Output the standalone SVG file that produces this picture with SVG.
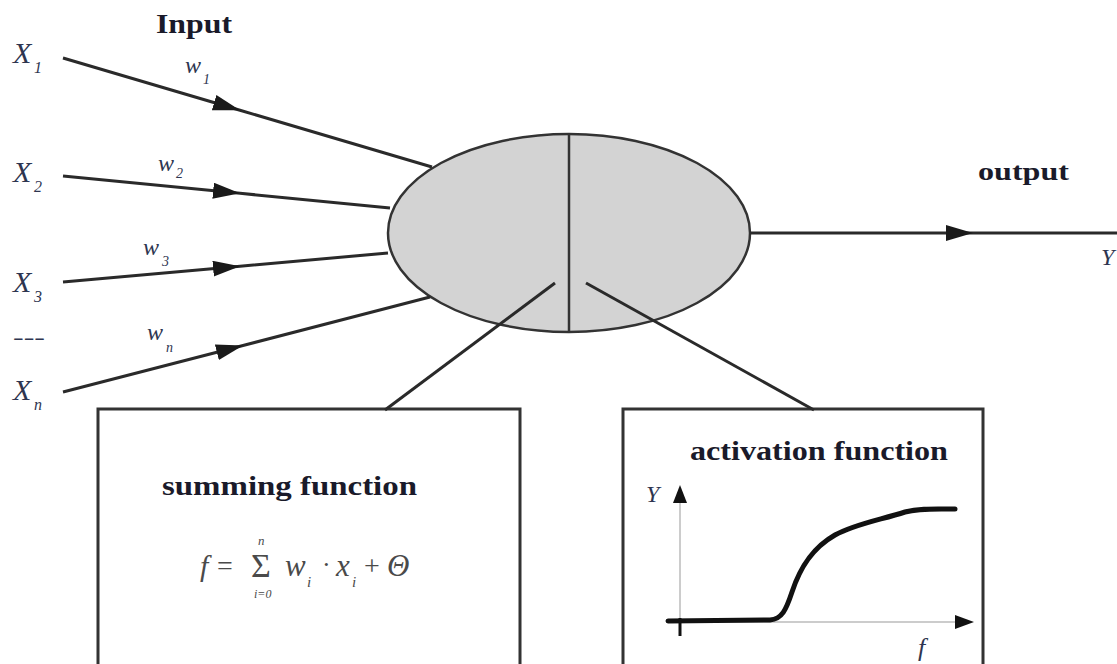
<svg xmlns="http://www.w3.org/2000/svg" width="1117" height="664" viewBox="0 0 1117 664">
<style>
.lbl{font-family:'Liberation Serif','Times New Roman',serif;font-weight:bold;fill:#1a1a2a}
.var{font-family:'Liberation Serif','Times New Roman',serif;font-style:italic;fill:#2e3550}
.math{font-family:'Liberation Serif','Times New Roman',serif;fill:#4a4a4a}
.it{font-style:italic}
.conn{stroke:#2a2a2a;stroke-width:3;fill:none}
.box{fill:#fff;stroke:#333;stroke-width:3}
</style>
<defs>
<marker id="arr" markerUnits="userSpaceOnUse" markerWidth="28" markerHeight="16" refX="27" refY="8" orient="auto">
<path d="M0,0 L27,8 L0,16 z" fill="#1a1a1a"/>
</marker>
</defs>
<rect width="1117" height="664" fill="#fff"/>

<g id="neuron">
<ellipse cx="569" cy="233" rx="181" ry="99" fill="#d3d3d3" stroke="#333" stroke-width="2.5"/>
<line x1="569" y1="134" x2="569" y2="332" stroke="#333" stroke-width="2.5"/>
</g>

<g id="summing-box">
<rect class="box" x="98" y="409" width="422" height="270"/>
<text class="lbl" x="162" y="495" font-size="27" textLength="255" lengthAdjust="spacingAndGlyphs">summing function</text>
<g class="math">
<text class="it" x="200" y="576" font-size="30">f</text>
<text x="217" y="575" font-size="28">=</text>
<text x="251" y="577" font-size="34">Σ</text>
<text class="it" x="258" y="545" font-size="13">n</text>
<text class="it" x="254" y="598" font-size="12">i=0</text>
<text class="it" x="285" y="576" font-size="31">w</text>
<text class="it" x="307" y="587" font-size="15">i</text>
<text x="322" y="573" font-size="26">·</text>
<text class="it" x="336" y="576" font-size="31">x</text>
<text class="it" x="352" y="587" font-size="15">i</text>
<text x="364" y="575" font-size="28">+</text>
<text class="it" x="387" y="576" font-size="31">Θ</text>
</g>
</g>

<g id="activation-box">
<rect class="box" x="623" y="409" width="360" height="270"/>
<text class="lbl" x="690" y="460" font-size="27" textLength="258" lengthAdjust="spacingAndGlyphs">activation function</text>
<line x1="680" y1="500" x2="680" y2="622" stroke="#999" stroke-width="1"/>
<line x1="680" y1="618" x2="680" y2="636" stroke="#111" stroke-width="3"/>
<path d="M673,503 L680,485 L687,503 z" fill="#111"/>
<line x1="668" y1="622" x2="958" y2="622" stroke="#999" stroke-width="1"/>
<path d="M955,615 L974,622 L955,629 z" fill="#111"/>
<path d="M668,621 L770,620 C782,619 786,610 792,592 C800,568 812,548 835,535 C855,524 880,520 905,512 C920,508 935,509 955,509" fill="none" stroke="#111" stroke-width="5" stroke-linecap="round"/>
<text class="var" x="646" y="502" font-size="24">Y</text>
<text class="var" x="918" y="656" font-size="26">f</text>
</g>

<g id="inputs">
<text class="lbl" x="156" y="33" font-size="28" textLength="76" lengthAdjust="spacingAndGlyphs">Input</text>
<text class="var" x="13" y="63" font-size="30">X</text><text class="var" x="34" y="73" font-size="16">1</text>
<text class="var" x="13" y="182" font-size="30">X</text><text class="var" x="34" y="192" font-size="16">2</text>
<text class="var" x="13" y="292" font-size="30">X</text><text class="var" x="34" y="302" font-size="16">3</text>
<text class="var" x="13" y="344" font-size="22" font-style="normal" textLength="32" lengthAdjust="spacingAndGlyphs">---</text>
<text class="var" x="13" y="400" font-size="30">X</text><text class="var" x="34" y="410" font-size="16">n</text>
<text class="var" x="185" y="73" font-size="24">w</text><text class="var" x="203" y="84" font-size="14">1</text>
<text class="var" x="158" y="171" font-size="24">w</text><text class="var" x="176" y="178" font-size="14">2</text>
<text class="var" x="143" y="255" font-size="24">w</text><text class="var" x="162" y="266" font-size="14">3</text>
<text class="var" x="147" y="340" font-size="24">w</text><text class="var" x="166" y="352" font-size="14">n</text>
</g>

<g id="output">
<text class="lbl" x="978" y="180" font-size="26" textLength="91" lengthAdjust="spacingAndGlyphs">output</text>
<text class="var" x="1101" y="265" font-size="24">Y</text>
</g>

<g id="connectors">
<path class="conn" d="M63,58 L240,110.3 L432,167" marker-mid="url(#arr)"/>
<path class="conn" d="M63,176 L240,193.3 L390,208" marker-mid="url(#arr)"/>
<path class="conn" d="M63,282 L240,266.2 L388,253" marker-mid="url(#arr)"/>
<path class="conn" d="M63,392 L243,345.5 L430,297" marker-mid="url(#arr)"/>
<path class="conn" d="M750,233 L973,233 L1117,233" marker-mid="url(#arr)"/>
<line class="conn" x1="555" y1="283" x2="385" y2="410" stroke-width="2.5"/>
<line class="conn" x1="586" y1="283" x2="814" y2="410" stroke-width="2.5"/>
</g>
</svg>
